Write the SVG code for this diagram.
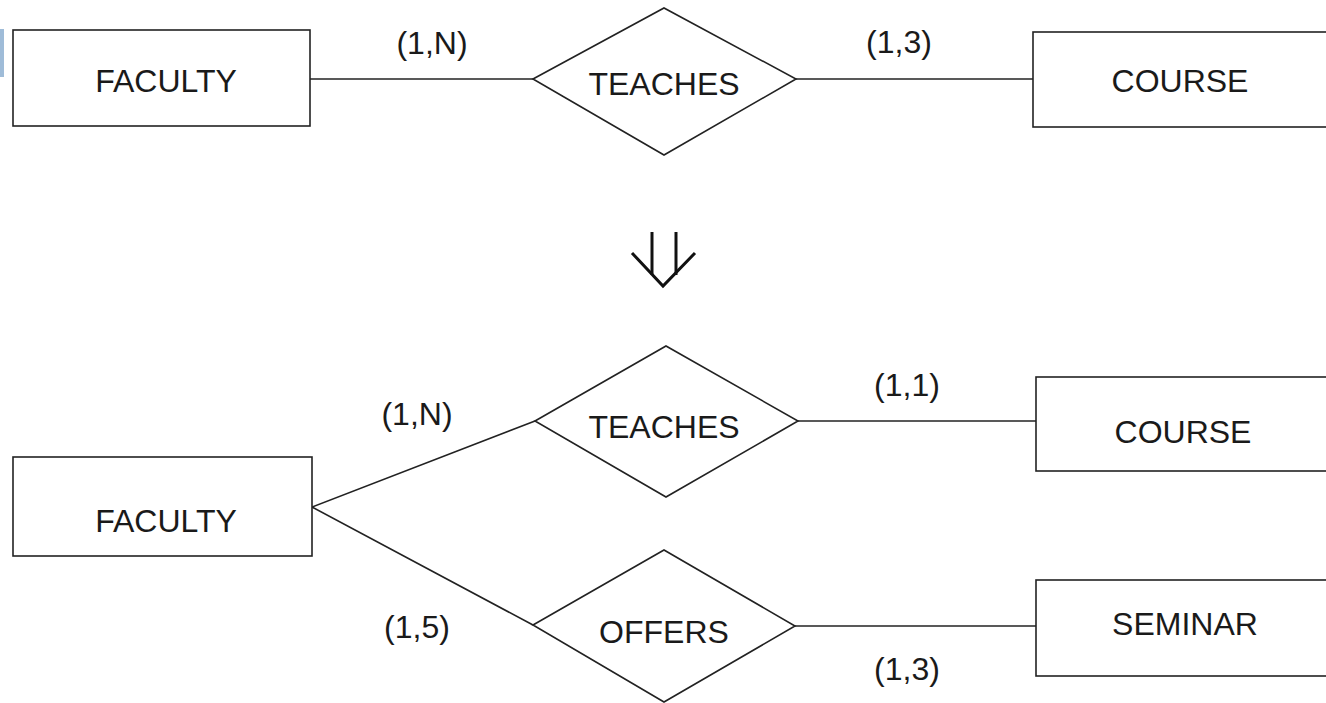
<svg xmlns="http://www.w3.org/2000/svg" width="1326" height="703" viewBox="0 0 1326 703">
<style>
.box{fill:#fff;stroke:#222;stroke-width:1.6}
.conn{fill:none;stroke:#222;stroke-width:1.6}
text{font-family:"Liberation Sans",Arial,sans-serif;font-size:32px;fill:#1a1a1a;text-anchor:middle}
.arrow{fill:none;stroke:#111;stroke-width:3}
</style>
<rect x="0" y="29" width="4" height="48" fill="#9fbcd8"/>
<g id="connectors">
<line class="conn" x1="310" y1="79" x2="533" y2="79"/>
<line class="conn" x1="796" y1="79" x2="1033" y2="79"/>
<polyline class="conn" points="535,421 312,507 533,625"/>
<line class="conn" x1="798" y1="421" x2="1036" y2="421"/>
<line class="conn" x1="795" y1="626" x2="1036" y2="626"/>
</g>
<g id="labels">
<text x="432" y="54">(1,N)</text>
<text x="899" y="53">(1,3)</text>
<text x="417" y="425">(1,N)</text>
<text x="417" y="638">(1,5)</text>
<text x="907" y="396">(1,1)</text>
<text x="907" y="680">(1,3)</text>
</g>
<g id="faculty1"><rect class="box" x="13" y="30" width="297" height="96"/><text x="166" y="92">FACULTY</text></g>
<g id="teaches1"><polygon class="box" points="533,79 664,8 796,79 664,155"/><text x="664" y="95">TEACHES</text></g>
<g id="course1"><rect class="box" x="1033" y="32" width="300" height="95"/><text x="1180" y="92">COURSE</text></g>
<g id="transform-arrow">
<line class="arrow" x1="652" y1="232" x2="652" y2="275"/>
<line class="arrow" x1="676" y1="232" x2="676" y2="275"/>
<polyline class="arrow" points="632,253 663,286 695,253"/>
</g>
<g id="faculty2"><rect class="box" x="13" y="457" width="299" height="99"/><text x="166" y="532">FACULTY</text></g>
<g id="teaches2"><polygon class="box" points="535,421 666,346 798,421 666,497"/><text x="664" y="438">TEACHES</text></g>
<g id="offers"><polygon class="box" points="533,625 664,550 795,626 664,702"/><text x="664" y="643">OFFERS</text></g>
<g id="course2"><rect class="box" x="1036" y="377" width="300" height="94"/><text x="1183" y="443">COURSE</text></g>
<g id="seminar"><rect class="box" x="1036" y="580" width="300" height="96"/><text x="1185" y="635">SEMINAR</text></g>
</svg>
